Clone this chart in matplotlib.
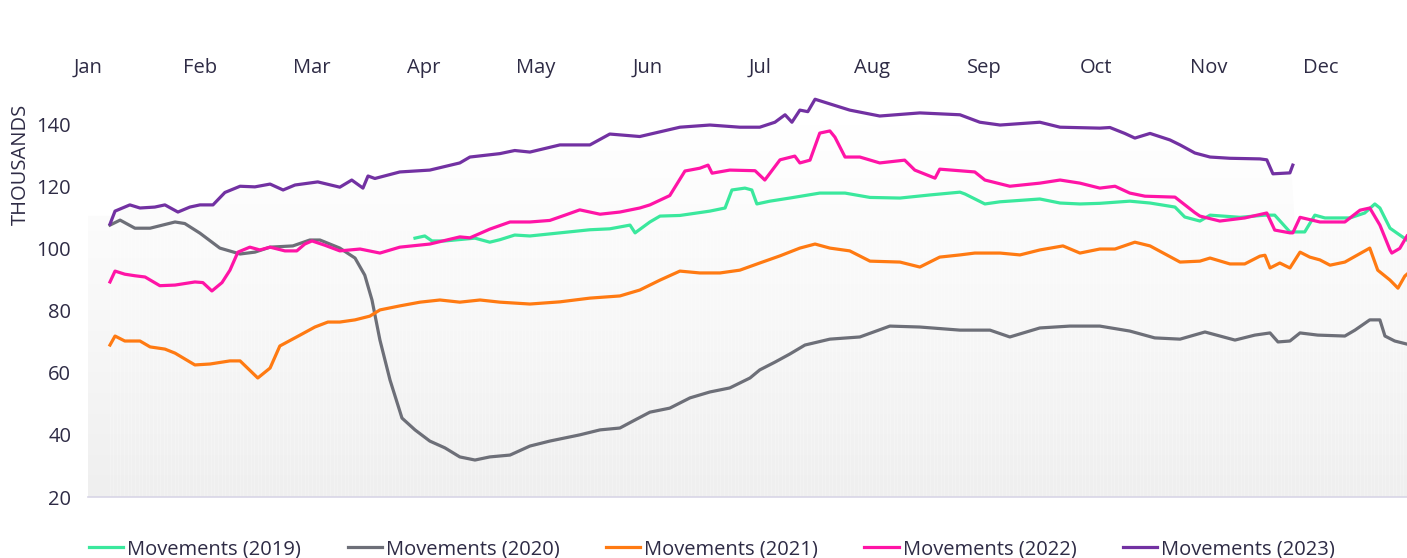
import numpy as np
import matplotlib.pyplot as plt
from matplotlib.path import Path
from matplotlib.patches import PathPatch
from matplotlib.colors import LinearSegmentedColormap

# 7-day average movements (thousands) by day of year
months = ['Jan', 'Feb', 'Mar', 'Apr', 'May', 'Jun', 'Jul', 'Aug', 'Sep', 'Oct', 'Nov', 'Dec']

day_2019 = [90.5, 93.2, 95.2, 98.8, 107.1, 111.2, 114, 118.1, 122.3, 130.6, 138.9, 144.4, 150, 151.4, 155.5,
            158.3, 163.8, 172.1, 176.3, 178.2, 181.8, 183.7, 185.1, 188.7, 194.2, 202.5, 209.5, 216.4, 224.7,
            233, 241.3, 242.7, 248.2, 252.4, 263.4, 269, 274.5, 280, 288.3, 293.9, 300.8, 303.5, 307.7, 310.5,
            318.8, 325.7, 328.4, 332.6, 336.7, 339.5, 342.3, 349.2, 353.3, 356.1, 357.5, 360.3, 363, 365]
val_2019 = [103.3, 104, 102.4, 102.4, 103.3, 102, 102.8, 104.3, 104, 105, 106, 106.3, 107.5, 105, 108.5,
            110.4, 110.6, 112, 113, 118.8, 119.4, 118.8, 114.3, 115.2, 116.2, 117.8, 117.8, 116.4, 116.2,
            117.2, 118.1, 117.5, 114.3, 115, 115.9, 114.6, 114.3, 114.5, 115.2, 114.6, 113.3, 110.1, 108.8, 110.7,
            110, 110.7, 110.7, 105.3, 105.3, 110.7, 109.8, 109.8, 111.4, 114.3, 113, 106.5, 104.3, 102.7]

day_2020 = [6.1, 8.9, 13, 17.2, 24.1, 26.8, 31, 36.5, 42.1, 46.2, 50.4, 56.7, 61.4, 64.2, 69.7, 73.9, 76.6,
            78.6, 80.8, 83.6, 86.9, 90.5, 94.6, 98.8, 102.9, 107.1, 111.2, 116.8, 122.3, 127.8, 136.1, 141.7,
            147.2, 151.4, 155.5, 161, 166.6, 172.1, 177.6, 183.2, 185.9, 190.1, 194.2, 198.4, 205.3, 213.6,
            221.9, 230.2, 241.3, 249.6, 255.1, 263.4, 271.7, 280, 288.3, 295.2, 302.2, 309.1, 317.4, 322.9,
            327.1, 329.3, 332.6, 335.4, 340.3, 347.8, 350.6, 354.7, 357.5, 358.9, 361.6, 365]
val_2020 = [107.5, 109.1, 106.5, 106.5, 108.5, 108, 104.9, 100.1, 98.2, 98.8, 100.4, 100.8, 102.7, 102.7,
            100.1, 96.9, 91.4, 83.4, 70.5, 57.6, 45.4, 41.6, 38, 35.8, 32.9, 31.9, 32.9, 33.5, 36.4, 38, 40,
            41.6, 42.2, 44.8, 47.3, 48.6, 51.9, 53.8, 55.1, 58.3, 60.9, 63.4, 66, 68.9, 70.8, 71.5, 75, 74.7,
            73.7, 73.7, 71.5, 74.4, 75, 75, 73.4, 71.2, 70.8, 73.1, 70.5, 72.1, 72.8, 69.9, 70.2, 72.8, 72.1,
            71.8, 73.7, 77, 77, 71.8, 70.2, 69.2]

day_2021 = [6.1, 7.5, 10.2, 14.4, 17.2, 21.3, 24.1, 29.6, 33.8, 39.3, 42.1, 47, 50.4, 53.1, 58.7, 62.8,
            66.4, 69.7, 73.9, 78, 80.8, 86.3, 91.9, 97.4, 102.9, 108.5, 114, 122.3, 130.6, 138.9, 147.2, 152.7,
            158.3, 163.8, 169.3, 174.9, 180.4, 185.9, 191.5, 197, 201.2, 205.3, 210.8, 216.4, 224.7, 230.2,
            235.7, 241.3, 245.4, 252.4, 257.9, 263.4, 269.8, 274.5, 280, 284.2, 289.7, 293.9, 302.2, 307.7,
            310.5, 316, 320.1, 324.3, 325.7, 327.1, 329.8, 332.6, 335.4, 338.1, 340.9, 343.7, 347.8, 354.7,
            356.9, 360.3, 362.5, 364.4, 365]
val_2021 = [68.9, 71.8, 70.2, 70.2, 68.3, 67.6, 66.3, 62.5, 62.8, 63.8, 63.8, 58.3, 61.5, 68.6, 72.1, 74.7,
            76.3, 76.3, 77, 78.2, 80.2, 81.5, 82.7, 83.4, 82.7, 83.4, 82.7, 82.1, 82.8, 84, 84.7, 86.6,
            89.8, 92.7, 92.1, 92.1, 93, 95.3, 97.6, 100.1, 101.4, 100.1, 99.2, 95.9, 95.6, 94, 97.2, 97.9,
            98.5, 98.5, 97.9, 99.5, 100.8, 98.5, 99.8, 99.8, 102, 100.8, 95.6, 95.9, 96.9, 95, 95, 97.5,
            97.8, 93.7, 95.3, 93.7, 98.8, 97.2, 96.3, 94.6, 95.6, 100.1, 93, 89.8, 87.2, 91.1, 91.7]

day_2022 = [6.1, 7.5, 10.2, 13, 15.8, 19.9, 24.1, 29.6, 31.8, 34.3, 37.1, 39.3, 41.5, 44.8, 47.6, 50.4,
            54.5, 57.8, 60, 62, 65.6, 69.7, 75.3, 80.8, 86.3, 94.6, 102.9, 105.7, 111.2, 116.8, 122.3, 127.8,
            132, 136.1, 141.7, 147.2, 152.7, 155.5, 161, 165.2, 169.3, 171.6, 172.7, 177.6, 184.6, 187.3,
            191.5, 195.6, 197, 199.8, 202.5, 205.3, 206.7, 209.5, 213.6, 219.1, 226, 228.8, 234.4, 235.7,
            245.4, 248.2, 255.1, 263.4, 269, 274.5, 280, 284.2, 288.3, 292.5, 300.8, 306.3, 307.7, 313.2,
            320.1, 326.2, 328.4, 332.6, 333.4, 335.4, 340.9, 347.8, 352, 354.7, 357.5, 360.3, 360.8, 363, 365]
val_2022 = [89.2, 92.7, 91.7, 91.2, 90.8, 88, 88.2, 89.2, 89, 86.3, 89, 93, 98.8, 100.4, 99.5, 100.4,
            99.2, 99.2, 101.4, 102.4, 101, 99.2, 99.8, 98.5, 100.4, 101.4, 103.7, 103.4, 106.2, 108.5, 108.5,
            109, 110.7, 112.4, 111, 111.7, 113, 114, 117, 124.9, 125.8, 126.8, 124.2, 125.2, 125, 122,
            128.5, 129.7, 127.5, 128.4, 137.1, 137.8, 135.8, 129.4, 129.4, 127.5, 128.4, 125.2, 122.6, 125.5,
            124.6, 122, 120, 121, 122, 121, 119.4, 120, 117.8, 116.8, 116.5, 111.5, 110.4, 108.8,
            109.8, 111.4, 105.9, 105, 105, 110, 108.5, 108.5, 112.3, 113, 107.5, 99.5, 98.5, 100, 104]

day_2023 = [6.1, 7.5, 11.6, 14.4, 18.5, 21.3, 24.9, 28.2, 31, 34.6, 37.9, 42.1, 46.2, 50.4, 54, 57.3, 63.6,
            69.7, 73, 76.1, 77.5, 79.4, 86.3, 94.6, 102.9, 105.7, 114, 118.1, 122.3, 130.6, 138.9, 144.4,
            152.7, 163.8, 172.1, 180.4, 185.9, 190.1, 192.9, 194.8, 197, 199.2, 201.2, 205.3, 210.8, 219.1,
            230.2, 241.3, 246.8, 252.4, 263.4, 269, 280, 282.8, 286.9, 289.7, 293.9, 299.4, 302.2, 306.3,
            310.5, 316, 324.3, 326.2, 327.9, 332.6, 333.4]
val_2023 = [107.8, 112, 114, 113, 113.3, 114, 111.7, 113.3, 114, 114, 118, 120, 119.8, 120.7, 118.8, 120.4,
            121.4, 119.7, 122, 119.4, 123.3, 122.5, 124.6, 125.2, 127.5, 129.4, 130.5, 131.5, 131, 133.3,
            133.3, 136.8, 136, 139, 139.7, 139, 139, 140.6, 143, 140.6, 144.5, 144, 148, 146.5, 144.5,
            142.6, 143.6, 143, 140.6, 139.7, 140.6, 139, 138.7, 138.9, 137, 135.5, 137, 134.9, 133.3, 130.7,
            129.4, 129, 128.8, 128.5, 124, 124.3, 126.8]

series = [
    ('Movements (2019)', day_2019, val_2019, '#3ae89d'),
    ('Movements (2020)', day_2020, val_2020, '#6d6f78'),
    ('Movements (2021)', day_2021, val_2021, '#ff7a12'),
    ('Movements (2022)', day_2022, val_2022, '#ff14a6'),
    ('Movements (2023)', day_2023, val_2023, '#7231a2'),
]

text_col = '#2e2b45'
plt.rcParams['font.family'] = ['Open Sans', 'DejaVu Sans']

fig = plt.figure(figsize=(14.07, 5.58), dpi=100)
ax = fig.add_axes([0.0625, 0.1093, 0.9375, 0.724])

# faint shaded backdrop under the upper envelope of all lines
grid = np.arange(0, 366)
stack = []
for _, d, v, _ in series:
    stack.append(np.interp(grid, d, v, left=np.nan, right=np.nan))
env = np.nanmax(np.vstack(stack), axis=0)
env[:7] = env[7]
verts = [(0, 20)] + list(zip(grid, env)) + [(365, 20)]
clip = PathPatch(Path(verts), facecolor='none', edgecolor='none')
ax.add_patch(clip)
grad = np.linspace(0, 1, 256).reshape(-1, 1)
cmap = LinearSegmentedColormap.from_list('bg', ['#efefef', '#f8f8f8', '#ffffff'])
img = ax.imshow(grad, extent=[0, 365, 20, 140], origin='lower', aspect='auto', cmap=cmap, zorder=0)
img.set_clip_path(clip)
ax.vlines(grid[6:], 20, env[6:], colors='white', lw=0.5, alpha=0.35, zorder=0.5)

for label, d, v, c in series:
    ax.plot(d, v, color=c, lw=2.3, label=label, zorder=3, solid_joinstyle='round')

ax.set_xlim(0, 365)
ax.set_ylim(20, 150)
ax.set_yticks([20, 40, 60, 80, 100, 120, 140])
ax.set_xticks([i * 31 for i in range(12)])
ax.set_xticklabels(months)
ax.xaxis.tick_top()
ax.tick_params(axis='both', length=0, labelsize=14.5, colors=text_col)
ax.tick_params(axis='x', pad=11)
ax.tick_params(axis='y', pad=12)
for s in ['top', 'right', 'left']:
    ax.spines[s].set_visible(False)
ax.spines['bottom'].set_color('#d8d5e6')
ax.spines['bottom'].set_linewidth(1.2)

fig.text(0.015, 1 - 164 / 558, 'THOUSANDS', rotation=90, ha='center', va='center',
         fontsize=14.5, color=text_col)

fig.legend(loc='lower center', bbox_to_anchor=(0.506, -0.035), ncol=5, frameon=False,
           fontsize=14.5, labelcolor=text_col, handlelength=1.7, handletextpad=0.2,
           columnspacing=2.3)

fig.savefig('out.png', dpi=100)
